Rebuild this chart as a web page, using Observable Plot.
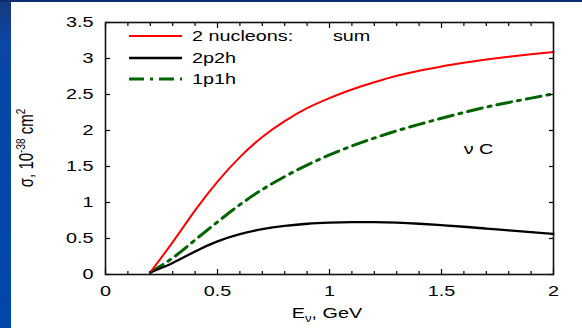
<!DOCTYPE html>
<html>
<head>
<meta charset="utf-8">
<script src="https://cdn.jsdelivr.net/npm/d3@7"></script>
<script src="https://cdn.jsdelivr.net/npm/@observablehq/plot@0.6"></script>
<style>
  html, body { margin: 0; padding: 0; background: #fff; }
  body { width: 582px; height: 328px; position: relative; overflow: hidden;
         font-family: "Liberation Sans", Arial, sans-serif; }
  #side { position: absolute; left: 0; top: 0; width: 11px; height: 328px;
          background: linear-gradient(to bottom, #173a7c 0px, #0a47a6 45px, #0047ab 100%); z-index: 2; }
  #topbar { position: absolute; left: 0; top: 0; width: 582px; height: 2px; background: #0c2e6e; z-index: 2; }
  #chart { position: absolute; left: 0; top: 0; }
  #legend { position: absolute; left: 0; top: 0; width: 582px; height: 328px; pointer-events: none; }
  .row { position: absolute; height: 20px; line-height: 20px; font-size: 15px; color: #000; white-space: pre; }
  .row svg { position: absolute; left: 0; top: 0; }
  .row span { position: absolute; left: 63px; top: 0; display: inline-block;
              transform: scaleX(1.32); transform-origin: left center; }
</style>
</head>
<body>
<div id="chart"></div>
<div id="legend"></div>
<div id="side"></div>
<div id="topbar"></div>
<script>
// ---- data ----
const energy = [0.2, 0.3, 0.4, 0.5, 0.6, 0.7, 0.8, 0.9, 1.0, 1.1, 1.2, 1.3, 1.4, 1.5, 1.6, 1.7, 1.8, 1.9, 2.0];
const sumTwoNucleons = [0.03, 0.45, 0.89, 1.29, 1.63, 1.91, 2.13, 2.31, 2.45, 2.57, 2.67, 2.76, 2.83, 2.89, 2.94, 2.985, 3.025, 3.06, 3.09];
const twoP2h = [0.03, 0.16, 0.32, 0.46, 0.56, 0.63, 0.675, 0.705, 0.72, 0.727, 0.727, 0.72, 0.705, 0.685, 0.663, 0.638, 0.613, 0.588, 0.563];
const oneP1h = [0.03, 0.23, 0.48, 0.73, 0.97, 1.18, 1.36, 1.52, 1.66, 1.785, 1.895, 1.995, 2.085, 2.17, 2.25, 2.325, 2.39, 2.45, 2.51];

const seriesNames = ["2 nucleons:  sum", "2p2h", "1p1h"];
const seriesColors = ["#ff0000", "#000000", "#006400"];

const xMajorTicks = [0, 0.5, 1, 1.5, 2];
const xMinorTicks = [0.1, 0.2, 0.3, 0.4, 0.6, 0.7, 0.8, 0.9, 1.1, 1.2, 1.3, 1.4, 1.6, 1.7, 1.8, 1.9];
const yTicks = [0, 0.5, 1, 1.5, 2, 2.5, 3, 3.5];

const annotation = [{E: 1.665, s: 1.74, label: "ν C"}];

// ---- build rows ----
const rows = energy.map((E, i) => ({E, sum: sumTwoNucleons[i], p2h: twoP2h[i], p1h: oneP1h[i]}));
const fmt = d => String(d);
const SX = 1.32; // horizontal stretch of the reference text

const chart = Plot.plot({
  width: 582,
  height: 328,
  marginLeft: 105,
  marginRight: 29,
  marginTop: 22,
  marginBottom: 54,
  style: {fontFamily: "'Liberation Sans', Arial, sans-serif", fontSize: "15px", color: "#000", background: "transparent"},
  x: {domain: [0, 2]},
  y: {domain: [0, 3.5]},
  marks: [
    Plot.line(rows, {x: "E", y: "p1h", stroke: seriesColors[2], strokeWidth: 3, curve: "natural", strokeDasharray: "15,6,3,6"}),
    Plot.line(rows, {x: "E", y: "p2h", stroke: seriesColors[1], strokeWidth: 2.3, curve: "natural"}),
    Plot.line(rows, {x: "E", y: "sum", stroke: seriesColors[0], strokeWidth: 2, curve: "natural"}),
    Plot.text(annotation, {x: "E", y: "s", text: "label", fontSize: 15, textAnchor: "middle"}),
    // ticks, inward
    Plot.axisX(xMajorTicks, {anchor: "bottom", tickSize: -5, text: null, label: null, strokeWidth: 1.2}),
    Plot.axisX(xMinorTicks, {anchor: "bottom", tickSize: -3, text: null, label: null, strokeWidth: 1.2}),
    Plot.axisX(xMajorTicks, {anchor: "top", tickSize: -5, text: null, label: null, strokeWidth: 1.2}),
    Plot.axisX(xMinorTicks, {anchor: "top", tickSize: -3, text: null, label: null, strokeWidth: 1.2}),
    Plot.axisY(yTicks, {anchor: "left", tickSize: -5, text: null, label: null, strokeWidth: 1.2}),
    Plot.axisY(yTicks, {anchor: "right", tickSize: -5, text: null, label: null, strokeWidth: 1.2}),
    // tick labels
    Plot.axisX(xMajorTicks, {anchor: "bottom", tickSize: 0, tickPadding: 11, tickFormat: fmt, label: null, fontSize: 15}),
    Plot.axisY(yTicks, {anchor: "left", tickSize: 0, tickPadding: 12, tickFormat: fmt, label: null, fontSize: 15}),
    Plot.frame({stroke: "#111", strokeWidth: 1.6})
  ]
});
document.getElementById("chart").appendChild(chart);

// stretch texts horizontally like the reference
d3.select(chart).selectAll("text").each(function() {
  const t = this.getAttribute("transform") || "";
  this.setAttribute("transform", t + ` scale(${SX},1)`);
});

// axis titles with sub/superscripts
const xs = chart.scale("x"), ys = chart.scale("y");
const [xr0, xr1] = xs.range;
const [yr0, yr1] = ys.range;
const svg = d3.select(chart);

const xl = svg.append("text")
  .attr("transform", `translate(${(xr0 + xr1) / 2 - 2},${yr0 + 44}) scale(${SX},1)`)
  .attr("text-anchor", "middle")
  .attr("font-size", 15)
  .attr("fill", "#000");
xl.append("tspan").text("E");
xl.append("tspan").attr("dy", 4).attr("font-size", 10).text("ν");
xl.append("tspan").attr("dy", -4).text(", GeV");

const yl = svg.append("text")
  .attr("transform", `translate(${xr0 - 72},${(yr0 + yr1) / 2}) scale(${SX},1) rotate(-90)`)
  .attr("text-anchor", "middle")
  .attr("font-size", 15)
  .attr("fill", "#000");
yl.append("tspan").text("σ, 10");
yl.append("tspan").attr("dy", -6).attr("font-size", 10).text("-38");
yl.append("tspan").attr("dy", 6).text(" cm");
yl.append("tspan").attr("dy", -6).attr("font-size", 10).text("2");

// legend (inside the frame, top-left)
const legend = document.getElementById("legend");
const legendDash = [null, null, "15,6,3,6"];
const legendWidth = [2, 2.3, 3];
seriesNames.forEach((name, i) => {
  const row = document.createElement("div");
  row.className = "row";
  row.style.left = (xr0 + 24) + "px";
  row.style.top = (yr1 + 4 + i * 21.5) + "px";
  const ns = "http://www.w3.org/2000/svg";
  const s = document.createElementNS(ns, "svg");
  s.setAttribute("width", 54); s.setAttribute("height", 20);
  const l = document.createElementNS(ns, "line");
  l.setAttribute("x1", 0); l.setAttribute("x2", 53);
  l.setAttribute("y1", 10); l.setAttribute("y2", 10);
  l.setAttribute("stroke", seriesColors[i]);
  l.setAttribute("stroke-width", legendWidth[i]);
  if (legendDash[i]) l.setAttribute("stroke-dasharray", legendDash[i]);
  s.appendChild(l);
  row.appendChild(s);
  const sp = document.createElement("span");
  if (i === 0) {
    sp.innerHTML = "2 nucleons:<span style=\"position:static;transform:none;display:inline;margin-left:30px\">sum</span>";
  } else {
    sp.textContent = name;
  }
  row.appendChild(sp);
  legend.appendChild(row);
});
</script>
</body>
</html>
